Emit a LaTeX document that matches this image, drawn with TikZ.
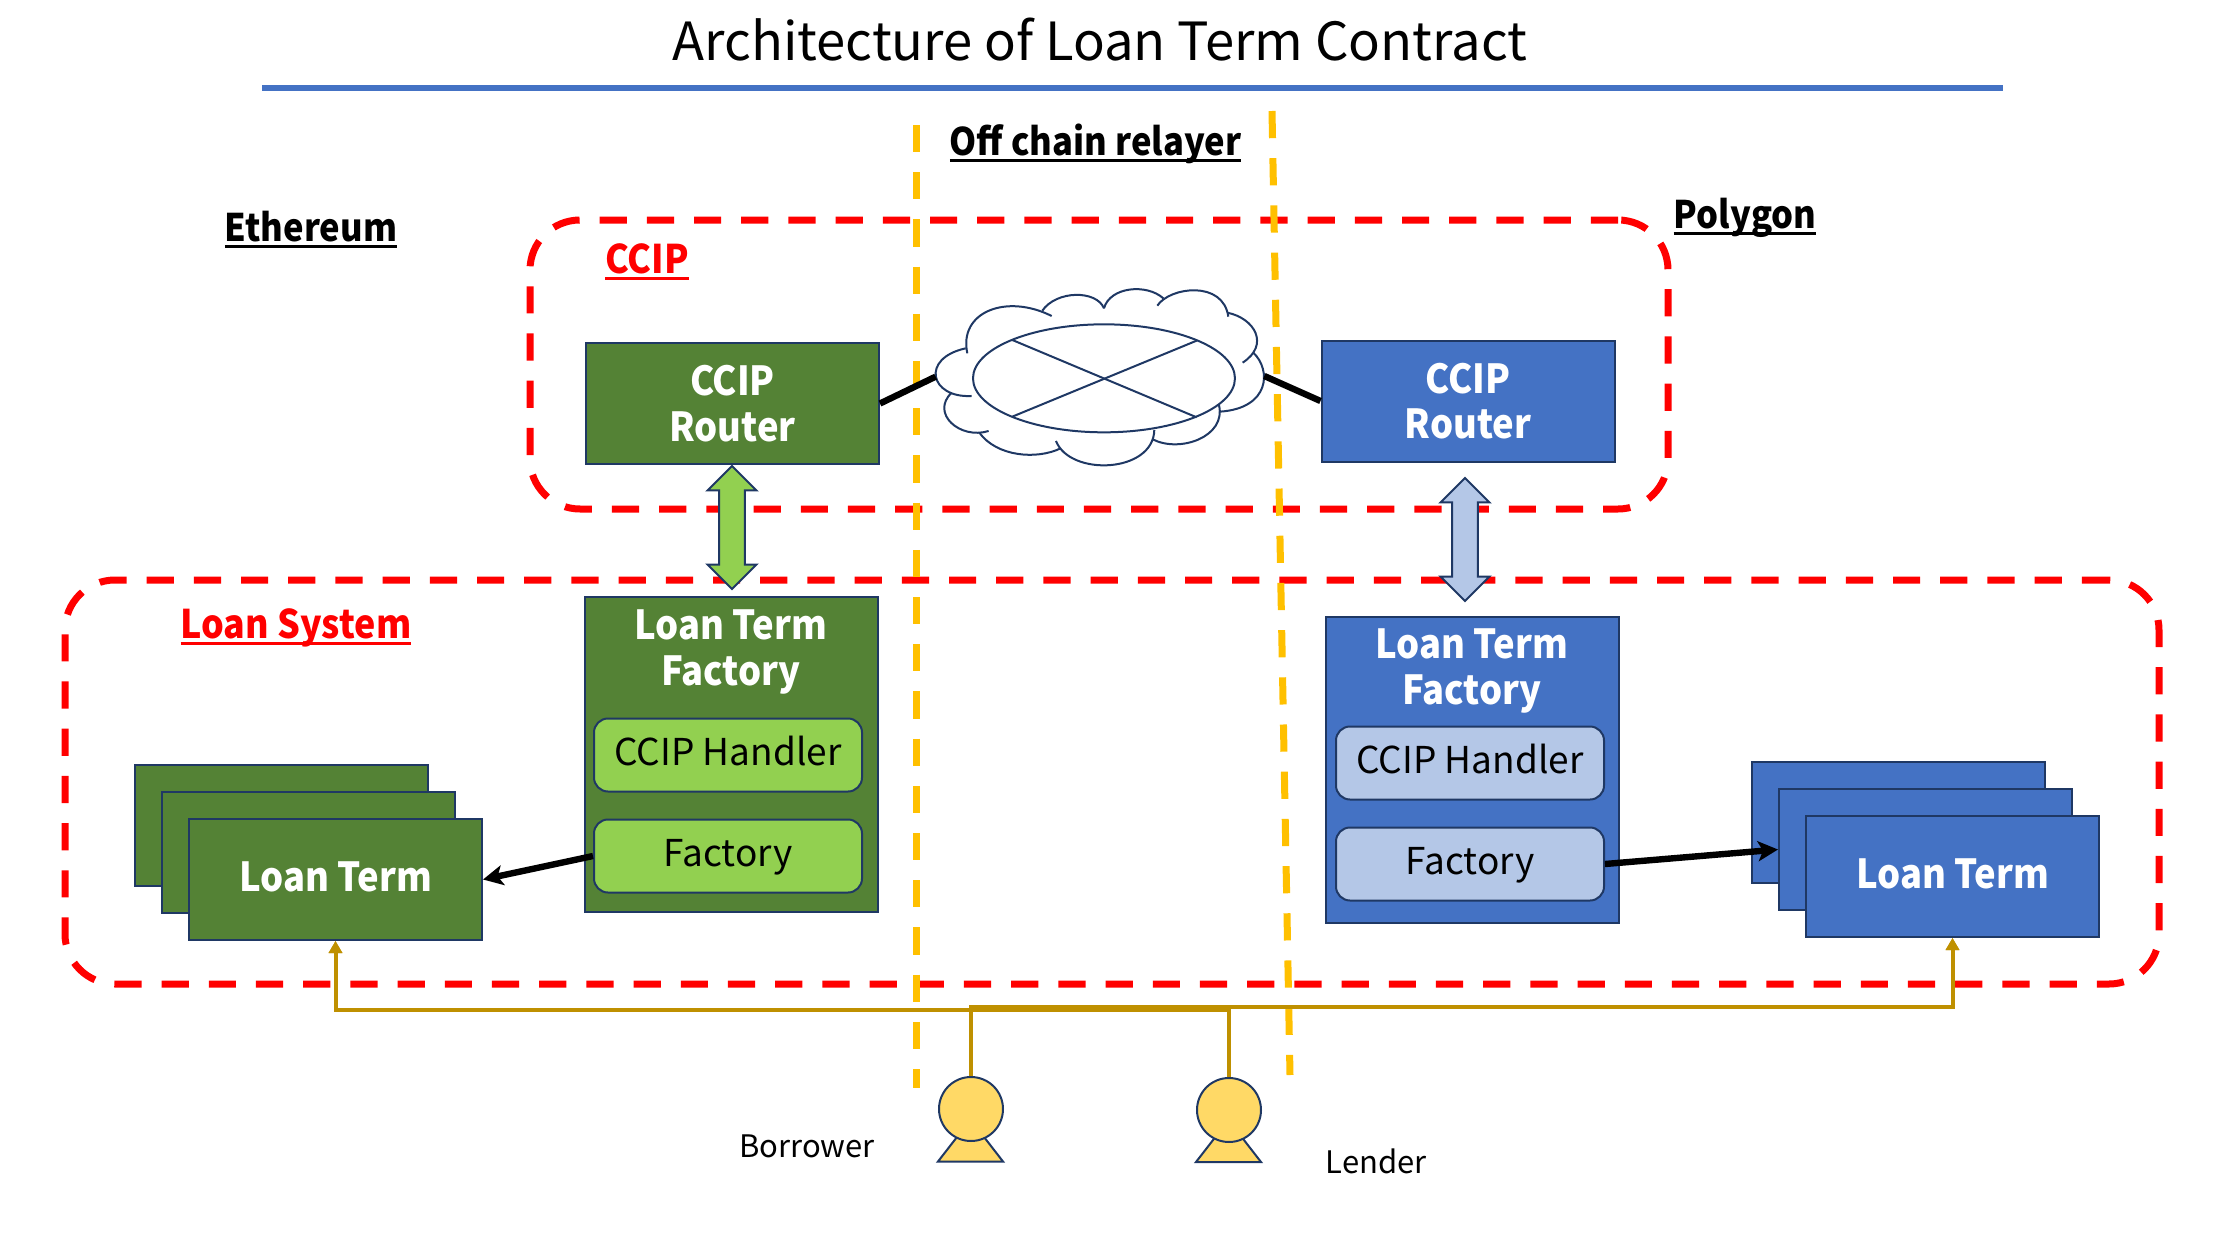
\documentclass[tikz,border=0pt]{standalone}
\usepackage{fontspec}
\setmainfont{Noto Sans CJK JP}[BoldFeatures={FakeStretch=0.91}]
\usepackage{xcolor}
\usetikzlibrary{shapes.arrows, arrows.meta, positioning}
\definecolor{ethgreen}{HTML}{548235}
\definecolor{polyblue}{HTML}{4472C4}
\definecolor{lightgreen}{HTML}{92D050}
\definecolor{lightblue}{HTML}{B4C7E7}
\definecolor{edgenavy}{HTML}{1F3864}
\definecolor{relayyellow}{HTML}{FFC000}
\definecolor{usergold}{HTML}{BF9000}
\definecolor{userfill}{HTML}{FFD966}
\newcommand{\ulabel}[1]{\setbox0=\hbox{#1}\rlap{\rule[-3.3pt]{\wd0}{1.5pt}}\box0}
\tikzset{
  boxfont/.style={font=\fontsize{20}{22.7}\selectfont\bfseries, text=white, align=center},
  oneline/.style={text height=16.5pt, text depth=4.5pt},
  ethbox/.style={rectangle, draw=edgenavy, line width=1pt, fill=ethgreen, boxfont, minimum width=146.5pt, minimum height=60.5pt, inner sep=0pt},
  polybox/.style={ethbox, fill=polyblue},
  ethpart/.style={rectangle, rounded corners=7pt, draw=edgenavy, line width=1pt, fill=lightgreen, font=\fontsize{18.5}{22}\selectfont, text height=15pt, text depth=5pt, minimum width=134pt, minimum height=36.5pt, inner sep=0pt},
  polypart/.style={ethpart, fill=lightblue},
  zone/.style={rectangle, rounded corners=25pt, draw=red, line width=3.5pt, dash pattern=on 13.6pt off 10pt, inner sep=0pt},
  relay/.style={draw=relayyellow, line width=3.5pt, dash pattern=on 13.6pt off 10pt},
  heading/.style={font=\fontsize{19}{22}\selectfont\bfseries, inner sep=0pt, anchor=base},
  redheading/.style={heading, text=red, font=\fontsize{19.7}{22}\selectfont\bfseries},
  sync/.style={double arrow, rotate=90, draw=edgenavy, line width=1pt, minimum height=61.5pt, minimum width=23.5pt, double arrow head extend=5.8pt, double arrow head indent=0pt, double arrow tip angle=90, inner xsep=0pt, inner ysep=5.9pt},
  arr/.style={-{Stealth[length=10pt, width=10pt, inset=2.5pt]}, line width=3.2pt, black},
  cloudlink/.style={black, line width=3.2pt},
  userline/.style={-{Triangle[length=6pt, width=6.5pt]}, line width=2pt, usergold},
  userhead/.style={circle, draw=edgenavy, line width=1pt, fill=userfill, minimum size=32pt, inner sep=0pt},
  userbody/.style={draw=edgenavy, line width=1pt, fill=userfill},
  cloudline/.style={draw=edgenavy, line width=1pt},
  usertext/.style={font=\fontsize{15.5}{18}\selectfont, inner sep=0pt},
}
\begin{document}
\begin{tikzpicture}[x=0.5pt, y=-0.5pt]
\useasboundingbox (0,0) rectangle (2224,1242);
\node[font=\fontsize{26.3}{30}\selectfont, inner sep=0pt] (title) at (1100,40) {Architecture of Loan Term Contract};
\node[inner sep=0pt] (rulel) at (261,88) {};
\node[inner sep=0pt] (ruler) at (2004,88) {};
\draw[polyblue, line width=3pt] (rulel)--(ruler);

\node[zone, minimum width=569pt, minimum height=144.5pt] (ccipzone) at (1099,364.5) {};
\node[zone, minimum width=1047pt, minimum height=202pt] (loanzone) at (1112,782) {};

\coordinate (relaylt) at (916,125); \coordinate (relaylb) at (916,1088);
\coordinate (relayrt) at (1272,111); \coordinate (relayrb) at (1290,1075);
\draw[relay] (relaylt)--(relaylb);
\draw[relay] (relayrt)--(relayrb);

\node[heading] (offchain) at (1095.5,155) {\ulabel{Off chain relayer}};
\node[heading] (ethereum) at (311,241) {\ulabel{Ethereum}};
\node[heading] (polygon) at (1745,228) {\ulabel{Polygon}};
\node[redheading] (cciplabel) at (647,273) {\ulabel{CCIP}};
\node[redheading] (loanlabel) at (296,638) {\ulabel{Loan System}};

\node[ethbox] (routereth) at (732.5,403.5) {CCIP\\Router};
\node[polybox] (routerpoly) at (1468,401) {CCIP\\Router};

\begin{scope}[shift={(880,270)}, scale=0.3333]
\draw[cloudline] (262,250) .. controls (235,125) and (380,70) .. (515,138);
\draw[cloudline] (487,122) .. controls (530,60) and (650,60) .. (672,115);
\draw[cloudline] (672,115) .. controls (690,50) and (800,40) .. (850,85);
\draw[cloudline] (832,107) .. controls (870,50) and (1030,30) .. (1045,140);
\draw[cloudline] (1042,128) .. controls (1125,145) and (1170,225) .. (1088,278);
\draw[cloudline] (1120,248) .. controls (1175,300) and (1170,415) .. (1020,425);
\draw[cloudline] (1017,405) .. controls (1040,500) and (900,550) .. (818,508);
\draw[cloudline] (823,480) .. controls (820,610) and (570,620) .. (528,513);
\draw[cloudline] (542,535) .. controls (470,570) and (350,560) .. (298,488);
\draw[cloudline] (326,483) .. controls (240,510) and (150,430) .. (215,368);
\draw[cloudline] (275,378) .. controls (150,385) and (120,265) .. (257,235);
\draw[cloudline] (672,325) ellipse [x radius=393, y radius=162];
\draw[cloudline] (397,210)--(950,442);
\draw[cloudline] (397,440)--(950,212);
\coordinate (cloudl) at (167,320);
\coordinate (cloudr) at (1153,318);
\end{scope}
\draw[cloudlink] (routereth.east)--(cloudl);
\draw[cloudlink] (routerpoly.west)--(cloudr);

\node[sync, fill=lightgreen] (synceth) at (732,527.5) {};
\node[sync, fill=lightblue] (syncpoly) at (1465,539.5) {};

\node[ethbox, minimum height=157.5pt] (facteth) at (731,754.5) {};
\node[boxfont, below=6.8pt of facteth.north, inner sep=0pt] (factethlabel) {Loan Term\\Factory};
\node[ethpart] (handleth) at (728,755) {CCIP Handler};
\node[ethpart] (makereth) at (728,856) {Factory};

\node[polybox, minimum height=153pt] (factpoly) at (1472,770) {};
\node[boxfont, below=6.3pt of factpoly.north, inner sep=0pt] (factpolylabel) {Loan Term\\Factory};
\node[polypart] (handlpoly) at (1470,763) {CCIP Handler};
\node[polypart] (makerpoly) at (1470,864) {Factory};

\node[ethbox] (termetha) at (281.5,825) {};
\node[ethbox] (termethb) at (308.5,852.5) {};
\node[ethbox, oneline] (termethc) at (335.5,879.5) {Loan Term};
\node[polybox] (termpolya) at (1898.5,822.5) {};
\node[polybox] (termpolyb) at (1925.5,849.5) {};
\node[polybox, oneline] (termpolyc) at (1952.5,876.5) {Loan Term};

\draw[arr] (makereth.west)--(termethc.east);
\draw[arr] (makerpoly.east)--(termpolyb.west);

\draw[userbody] (938,1161.5)--(957,1137)--(984,1137)--(1003,1161.5)--cycle;
\draw[userbody] (1196,1162)--(1215,1137.5)--(1242,1137.5)--(1261,1162)--cycle;
\node[userhead] (borrower) at (971,1109) {};
\node[userhead] (lender) at (1229,1110) {};
\coordinate (buseth) at (650,1009.5);
\coordinate (buspoly) at (1500,1007);
\draw[userline] (borrower.north) |- (buseth) -| (termethc.south);
\draw[userline] (lender.north) |- (buseth) -| (termethc.south);
\draw[userline] (borrower.north) |- (buspoly) -| (termpolyc.south);
\draw[userline] (lender.north) |- (buspoly) -| (termpolyc.south);
\node[usertext] (borrowerlabel) at (807,1146) {Borrower};
\node[usertext] (lenderlabel) at (1376,1161) {Lender};
\end{tikzpicture}
\end{document}
